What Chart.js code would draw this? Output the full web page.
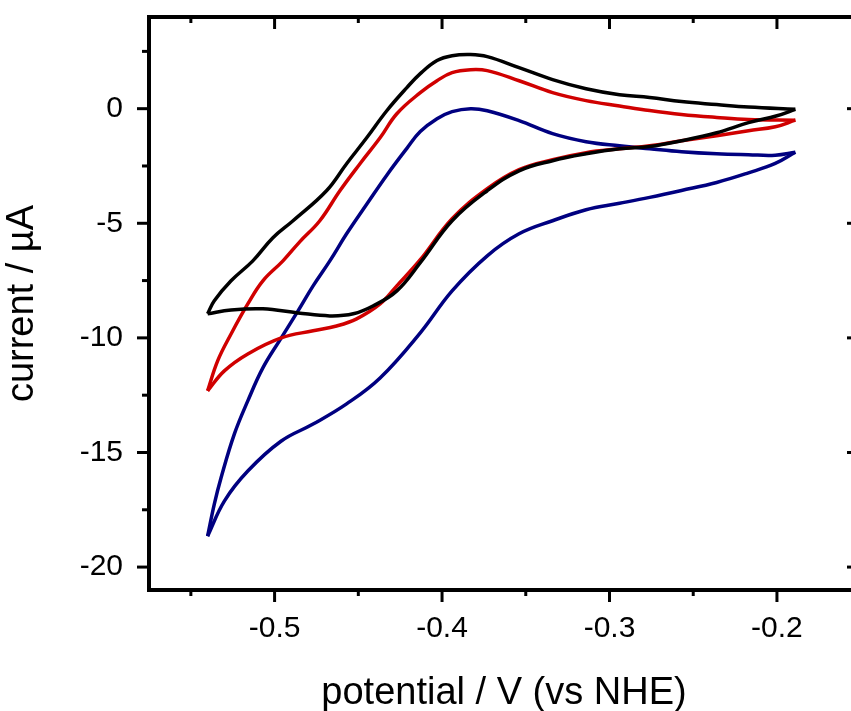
<!DOCTYPE html>
<html>
<head>
<meta charset="utf-8">
<script src="https://cdn.jsdelivr.net/npm/chart.js@4.4.1/dist/chart.umd.min.js"></script>
<style>
  body { margin: 0; overflow: hidden; background: #fff; }
</style>
</head>
<body>
<canvas id="cvChart" width="862" height="722"></canvas>
<script>
// axis ticks
const xMajor = [-0.5, -0.4, -0.3, -0.2];
const xMinor = [-0.55, -0.45, -0.35, -0.25];
const yMajor = [0, -5, -10, -15, -20];
const yMinor = [2.5, -2.5, -7.5, -12.5, -17.5];

const blackLower = [[-0.540,-8.95],[-0.526,-8.78],[-0.507,-8.73],[-0.486,-8.91],[-0.467,-9.04],[-0.453,-8.95],[-0.441,-8.60],[-0.427,-7.95],[-0.413,-6.72],[-0.394,-4.89],[-0.373,-3.58],[-0.354,-2.71],[-0.334,-2.27],[-0.314,-1.97],[-0.294,-1.75],[-0.276,-1.65],[-0.257,-1.40],[-0.236,-1.05],[-0.217,-0.61],[-0.200,-0.31],[-0.189,-0.03]];
const blackUpper = [[-0.540,-8.95],[-0.536,-8.38],[-0.526,-7.51],[-0.513,-6.64],[-0.501,-5.63],[-0.489,-4.89],[-0.469,-3.58],[-0.457,-2.40],[-0.445,-1.27],[-0.433,-0.09],[-0.421,0.92],[-0.413,1.53],[-0.403,2.10],[-0.394,2.31],[-0.383,2.36],[-0.373,2.27],[-0.354,1.79],[-0.334,1.27],[-0.314,0.87],[-0.294,0.61],[-0.276,0.49],[-0.257,0.31],[-0.236,0.18],[-0.217,0.07],[-0.189,-0.03]];

const redLower = [[-0.540,-12.31],[-0.530,-11.44],[-0.516,-10.70],[-0.496,-10.00],[-0.477,-9.69],[-0.463,-9.48],[-0.451,-9.17],[-0.437,-8.52],[-0.427,-7.73],[-0.413,-6.59],[-0.394,-4.80],[-0.373,-3.49],[-0.354,-2.66],[-0.334,-2.23],[-0.314,-1.92],[-0.294,-1.75],[-0.276,-1.62],[-0.257,-1.40],[-0.236,-1.18],[-0.217,-0.96],[-0.201,-0.79],[-0.189,-0.50]];
const redUpper = [[-0.540,-12.31],[-0.534,-11.00],[-0.526,-9.83],[-0.516,-8.52],[-0.507,-7.51],[-0.495,-6.64],[-0.485,-5.81],[-0.473,-4.89],[-0.461,-3.58],[-0.449,-2.40],[-0.437,-1.27],[-0.427,-0.22],[-0.413,0.70],[-0.403,1.22],[-0.394,1.57],[-0.383,1.70],[-0.373,1.66],[-0.354,1.22],[-0.334,0.70],[-0.314,0.35],[-0.294,0.12],[-0.276,-0.08],[-0.257,-0.25],[-0.236,-0.38],[-0.217,-0.47],[-0.189,-0.50]];

const blueLower = [[-0.540,-18.65],[-0.530,-17.12],[-0.516,-15.81],[-0.496,-14.50],[-0.477,-13.76],[-0.457,-12.88],[-0.437,-11.75],[-0.413,-9.78],[-0.394,-7.95],[-0.373,-6.42],[-0.354,-5.46],[-0.334,-4.89],[-0.314,-4.41],[-0.294,-4.13],[-0.276,-3.87],[-0.257,-3.57],[-0.236,-3.22],[-0.217,-2.80],[-0.201,-2.39],[-0.189,-1.90]];
const blueUpper = [[-0.540,-18.65],[-0.536,-17.25],[-0.532,-16.11],[-0.524,-14.19],[-0.516,-12.75],[-0.507,-11.31],[-0.496,-10.00],[-0.486,-8.82],[-0.477,-7.73],[-0.467,-6.64],[-0.457,-5.46],[-0.445,-4.17],[-0.433,-2.90],[-0.421,-1.73],[-0.413,-1.00],[-0.403,-0.44],[-0.394,-0.13],[-0.383,0.00],[-0.373,-0.09],[-0.354,-0.52],[-0.334,-1.09],[-0.314,-1.44],[-0.294,-1.62],[-0.276,-1.75],[-0.257,-1.88],[-0.236,-1.97],[-0.217,-2.01],[-0.201,-2.03],[-0.189,-1.90]];

const FONT = "'Liberation Sans', Arial, sans-serif";

function sweep(points, color) {
    return {
        data: points.map(p => ({ x: p[0], y: p[1] })),
        borderColor: color,
        borderWidth: 3.5,
        pointRadius: 0,
        showLine: true,
        tension: 0.4,
        fill: false
    };
}

// box around the plot plus tick marks (outside left/bottom, inside top/right)
const frameTicks = {
    id: 'frameTicks',
    afterDraw(chart) {
        const { ctx, chartArea: a, scales: { x, y } } = chart;
        ctx.save();
        ctx.strokeStyle = '#000';
        ctx.lineWidth = 4;
        ctx.strokeRect(a.left, a.top, a.right - a.left, a.bottom - a.top);
        ctx.lineWidth = 3;
        const mark = (x1, y1, x2, y2) => {
            ctx.beginPath();
            ctx.moveTo(x1, y1);
            ctx.lineTo(x2, y2);
            ctx.stroke();
        };
        const xs = (vals, len) => vals.forEach(v => {
            const px = x.getPixelForValue(v);
            mark(px, a.bottom, px, a.bottom + len);
            mark(px, a.top, px, a.top + len);
        });
        const ys = (vals, len) => vals.forEach(v => {
            const py = y.getPixelForValue(v);
            mark(a.left, py, a.left - len, py);
            mark(a.right, py, a.right - len, py);
        });
        xs(xMajor, 12);
        xs(xMinor, 6);
        ys(yMajor, 12);
        ys(yMinor, 7);
        ctx.restore();
    }
};

new Chart(document.getElementById('cvChart'), {
    type: 'scatter',
    data: {
        datasets: [
            sweep(blackLower, '#000000'),
            sweep(blackUpper, '#000000'),
            sweep(redLower, '#d00000'),
            sweep(redUpper, '#d00000'),
            sweep(blueLower, '#000080'),
            sweep(blueUpper, '#000080')
        ]
    },
    options: {
        responsive: false,
        animation: false,
        layout: { padding: { top: 17, right: 3, left: 0, bottom: 0 } },
        plugins: {
            legend: { display: false },
            tooltip: { enabled: false }
        },
        scales: {
            x: {
                type: 'linear',
                min: -0.575,
                max: -0.151,
                afterBuildTicks: s => { s.ticks = xMajor.map(v => ({ value: v })); },
                afterFit: s => { s.height = 132; s.paddingLeft = 0; s.paddingRight = 0; },
                grid: { display: false, drawTicks: false },
                border: { display: false },
                ticks: {
                    padding: 21,
                    color: '#000',
                    maxRotation: 0,
                    autoSkip: false,
                    font: { family: FONT, size: 30 },
                    callback: v => v.toFixed(1)
                },
                title: {
                    display: true,
                    text: 'potential / V (vs NHE)',
                    color: '#000',
                    font: { family: FONT, size: 38 },
                    padding: { top: 0, bottom: 6 }
                }
            },
            y: {
                type: 'linear',
                min: -21,
                max: 4,
                afterBuildTicks: s => { s.ticks = yMajor.map(v => ({ value: v })); },
                afterFit: s => { s.width = 149; s.paddingTop = 0; s.paddingBottom = 0; },
                grid: { display: false, drawTicks: false },
                border: { display: false },
                ticks: {
                    padding: 26,
                    color: '#000',
                    autoSkip: false,
                    font: { family: FONT, size: 30 },
                    callback: v => String(v)
                },
                title: {
                    display: true,
                    text: 'current / µA',
                    color: '#000',
                    font: { family: FONT, size: 38 },
                    padding: { top: 0, bottom: 0 }
                }
            }
        }
    },
    plugins: [frameTicks]
});
</script>
</body>
</html>
